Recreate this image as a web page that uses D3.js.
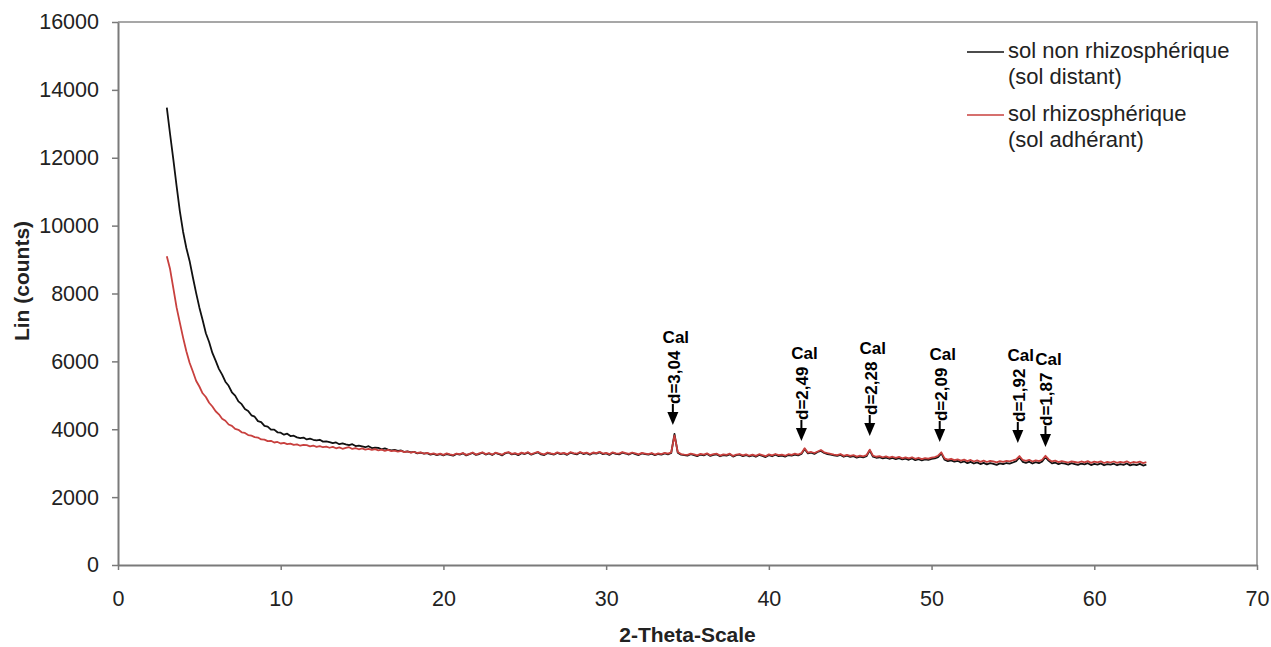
<!DOCTYPE html>
<html>
<head>
<meta charset="utf-8">
<script src="https://cdn.jsdelivr.net/npm/d3@7"></script>
<style>
  html, body { margin: 0; padding: 0; background: #fff; }
  svg { display: block; font-family: "Liberation Sans", Arial, sans-serif; }
</style>
</head>
<body>
<svg id="chart" width="1271" height="647"></svg>
<script>
// ---- Data (XRD scans, 2-theta from 3.0 in 0.2 degree steps) ----
const thetaStart = 3.0;
const thetaStep = 0.2;

const solNonRhizo = [
  13480, 12700, 11950, 11170, 10430, 9820, 9340, 8960, 8480, 8020,
  7590, 7220, 6830, 6570, 6250, 6020, 5780, 5610, 5400, 5280,
  5090, 4990, 4820, 4740, 4600, 4540, 4410, 4370, 4240, 4210,
  4100, 4080, 3990, 3990, 3910, 3900, 3840, 3870, 3800, 3810,
  3760, 3740, 3755, 3700, 3725, 3690, 3670, 3690, 3635, 3645,
  3620, 3590, 3610, 3560, 3585, 3555, 3530, 3560, 3505, 3520,
  3495, 3470, 3500, 3445, 3460, 3450, 3410, 3435, 3400, 3380,
  3390, 3360, 3375, 3330, 3350, 3320, 3335, 3290, 3310, 3280,
  3295, 3250, 3275, 3240, 3265, 3230, 3270, 3245, 3220, 3275,
  3250, 3290, 3230, 3265, 3300, 3245, 3270, 3310, 3255, 3285,
  3240, 3300, 3270, 3230, 3290, 3315, 3260, 3280, 3235, 3295,
  3270, 3310, 3250, 3285, 3320, 3260, 3240, 3300, 3275, 3255,
  3305, 3265, 3290, 3245, 3310, 3280, 3260, 3315, 3270, 3295,
  3250, 3300, 3280, 3320, 3265, 3290, 3245, 3305, 3275, 3260,
  3310, 3285, 3255, 3300, 3270, 3240, 3290, 3265, 3250, 3280,
  3235, 3270, 3250, 3290, 3260, 3300, 3860, 3310, 3250, 3240,
  3225, 3265, 3240, 3210, 3255, 3230, 3270, 3215, 3245, 3260,
  3205, 3240, 3225, 3260, 3195, 3235, 3250, 3210, 3240, 3200,
  3230, 3190, 3245, 3215, 3180, 3235, 3205, 3250, 3210, 3225,
  3195, 3240, 3220, 3255, 3230, 3270, 3420, 3290, 3310, 3275,
  3330, 3360, 3300, 3270, 3250, 3230, 3215, 3245, 3190, 3220,
  3185, 3210, 3165, 3195, 3170, 3205, 3380, 3190, 3160, 3175,
  3140, 3165, 3130, 3155, 3120, 3150, 3110, 3135, 3100, 3140,
  3090, 3120, 3080, 3110, 3095, 3125, 3140, 3180, 3290, 3100,
  3060, 3085, 3045, 3070, 3020, 3055, 3000, 3040, 2990, 3025,
  2975, 3010, 2965, 3000, 2980, 2950, 2995, 2970, 3005, 2985,
  3020, 3060, 3170, 3040, 3010, 3045, 2990, 3030, 3000, 3050,
  3180, 3070, 2995, 3020, 2970, 3005, 2985, 2960, 3000, 2975,
  2950, 2990, 2965, 3000, 2945, 2980, 2960, 2995, 2940, 2975,
  2955, 2985, 2940, 2970, 2950, 2990, 2935, 2965, 2945, 2980, 2930, 2960
];

const solRhizo = [
  9100, 8720, 8160, 7590, 7140, 6700, 6300, 5960, 5700, 5430,
  5260, 5060, 4950, 4780, 4670, 4530, 4440, 4310, 4250, 4140,
  4100, 4010, 3985, 3910, 3890, 3830, 3810, 3770, 3755, 3700,
  3695, 3650, 3660, 3610, 3625, 3580, 3600, 3560, 3575, 3540,
  3555, 3515, 3540, 3530, 3495, 3520, 3480, 3505, 3470, 3490,
  3455, 3480, 3440, 3465, 3425, 3450, 3470, 3420, 3445, 3410,
  3435, 3400, 3420, 3390, 3415, 3380, 3400, 3365, 3390, 3355,
  3370, 3340, 3360, 3325, 3345, 3310, 3330, 3300, 3320, 3285,
  3305, 3270, 3290, 3255, 3280, 3245, 3290, 3260, 3240, 3285,
  3265, 3300, 3245, 3275, 3315, 3255, 3290, 3320, 3270, 3300,
  3255, 3310, 3285, 3250, 3305, 3325, 3275, 3295, 3260, 3310,
  3285, 3325, 3265, 3300, 3335, 3280, 3260, 3315, 3290, 3270,
  3320, 3280, 3305, 3265, 3325, 3295, 3280, 3330, 3290, 3310,
  3270, 3315, 3295, 3335, 3285, 3305, 3265, 3320, 3290, 3280,
  3325, 3300, 3275, 3315, 3290, 3260, 3305, 3285, 3265, 3300,
  3255, 3290, 3270, 3305, 3280, 3320, 3820, 3330, 3270, 3255,
  3245, 3280, 3260, 3230, 3275, 3250, 3290, 3235, 3265, 3280,
  3225, 3260, 3245, 3280, 3215, 3255, 3270, 3230, 3260, 3220,
  3250, 3215, 3265, 3235, 3205, 3260, 3230, 3270, 3235, 3250,
  3220, 3265, 3245, 3280, 3255, 3295, 3440, 3310, 3330, 3300,
  3345, 3390, 3320, 3295, 3275, 3255, 3240, 3270, 3215, 3245,
  3215, 3240, 3195, 3225, 3200, 3235, 3400, 3220, 3190, 3205,
  3175, 3200, 3165, 3190, 3155, 3185, 3145, 3170, 3140, 3175,
  3130, 3160, 3120, 3150, 3135, 3165, 3180, 3220, 3320, 3140,
  3105, 3130, 3090, 3115, 3075, 3105, 3060, 3095, 3050, 3085,
  3040, 3075, 3035, 3065, 3050, 3025, 3060, 3040, 3070, 3055,
  3080, 3110, 3210, 3095, 3070, 3100, 3050, 3085, 3060, 3100,
  3220, 3110, 3050, 3075, 3030, 3060, 3040, 3020, 3055, 3035,
  3015, 3050, 3025, 3060, 3010, 3045, 3025, 3055, 3005, 3040,
  3020, 3050, 3010, 3040, 3015, 3055, 3005, 3035, 3015, 3045, 3000, 3030
];

const seriesNames = [
  ["sol non rhizosphérique", "(sol distant)"],
  ["sol rhizosphérique", "(sol adhérant)"]
];
const seriesColors = ["#111111", "#c8403e"];

// Calcite peak annotations
const peakTheta = [34.1, 42.0, 46.2, 50.5, 55.3, 57.0];
const peakTip   = [4125, 3654, 3801, 3624, 3595, 3477];
const peakD     = ["d=3,04", "d=2,49", "d=2,28", "d=2,09", "d=1,92", "d=1,87"];
const peakMineral = "Cal";

const xTicks = [0, 10, 20, 30, 40, 50, 60, 70];
const yTicks = [0, 2000, 4000, 6000, 8000, 10000, 12000, 14000, 16000];

// ---- Layout ----
const svg = d3.select("#chart");
const L = 118, R = 1257, T = 22, B = 565;
const x = d3.scaleLinear().domain([0, 70]).range([L, R]);
const y = d3.scaleLinear().domain([0, 16000]).range([B, T]);
const axisColor = "#7a7a7a";
const textColor = "#222";

// frame (top and right)
svg.append("path")
  .attr("d", `M${L},${T}H${R}V${B}`)
  .attr("fill", "none").attr("stroke", "#8a8a8a").attr("stroke-width", 1.5);

// axes
const gx = svg.append("g").attr("transform", `translate(0,${B})`)
  .call(d3.axisBottom(x).tickValues(xTicks).tickSize(5).tickPadding(21).tickSizeOuter(0));
const gy = svg.append("g").attr("transform", `translate(${L},0)`)
  .call(d3.axisLeft(y).tickValues(yTicks).tickSize(6).tickPadding(13).tickSizeOuter(0).tickFormat(d3.format("d")));
[gx, gy].forEach(g => {
  g.select(".domain").attr("stroke", axisColor).attr("stroke-width", 2);
  g.selectAll(".tick line").attr("stroke", axisColor).attr("stroke-width", 1.5);
  g.selectAll(".tick text").attr("fill", textColor).style("font-size", "21.5px")
    .style("font-family", "'Liberation Sans', Arial, sans-serif");
});

// axis titles
svg.append("text")
  .attr("x", x(35)).attr("y", 642)
  .attr("text-anchor", "middle")
  .style("font-size", "21px").style("font-weight", "bold").attr("fill", textColor)
  .text("2-Theta-Scale");
svg.append("text")
  .attr("transform", `translate(29,281) rotate(-90)`)
  .attr("text-anchor", "middle")
  .style("font-size", "21px").style("font-weight", "bold").attr("fill", textColor)
  .text("Lin (counts)");

// lines
const line = d3.line()
  .x((d, i) => x(thetaStart + i * thetaStep))
  .y(d => y(d));
[solNonRhizo, solRhizo].forEach((s, k) => {
  svg.append("path")
    .datum(s)
    .attr("fill", "none")
    .attr("stroke", seriesColors[k])
    .attr("stroke-width", 1.8)
    .attr("stroke-linejoin", "round")
    .attr("d", line);
});

// annotations
peakTheta.forEach((t, i) => {
  const px = x(t);
  const tip = y(peakTip[i]);
  const g = svg.append("g");
  g.append("path")
    .attr("d", `M${px},${tip}L${px - 5.5},${tip - 13}L${px + 5.5},${tip - 13}Z`)
    .attr("fill", "#000");
  g.append("line")
    .attr("x1", px).attr("x2", px).attr("y1", tip - 12).attr("y2", tip - 21)
    .attr("stroke", "#000").attr("stroke-width", 2);
  g.append("text")
    .attr("transform", `translate(${px + 7},${tip - 21}) rotate(-90)`)
    .attr("text-anchor", "start")
    .style("font-size", "17px").style("font-weight", "bold").attr("fill", "#000")
    .text(peakD[i]);
  g.append("text")
    .attr("x", px + 3).attr("y", tip - 82)
    .attr("text-anchor", "middle")
    .style("font-size", "17px").style("font-weight", "bold").attr("fill", "#000")
    .text(peakMineral);
});

// legend
const legY = [52, 115];
seriesNames.forEach((names, k) => {
  svg.append("line")
    .attr("x1", 967).attr("x2", 1004).attr("y1", legY[k]).attr("y2", legY[k])
    .attr("stroke", seriesColors[k]).attr("stroke-width", 1.5);
  names.forEach((n, j) => {
    svg.append("text")
      .attr("x", 1008).attr("y", legY[k] + 6 + j * 25.5)
      .style("font-size", "22px").attr("fill", textColor)
      .text(n);
  });
});
</script>
</body>
</html>
